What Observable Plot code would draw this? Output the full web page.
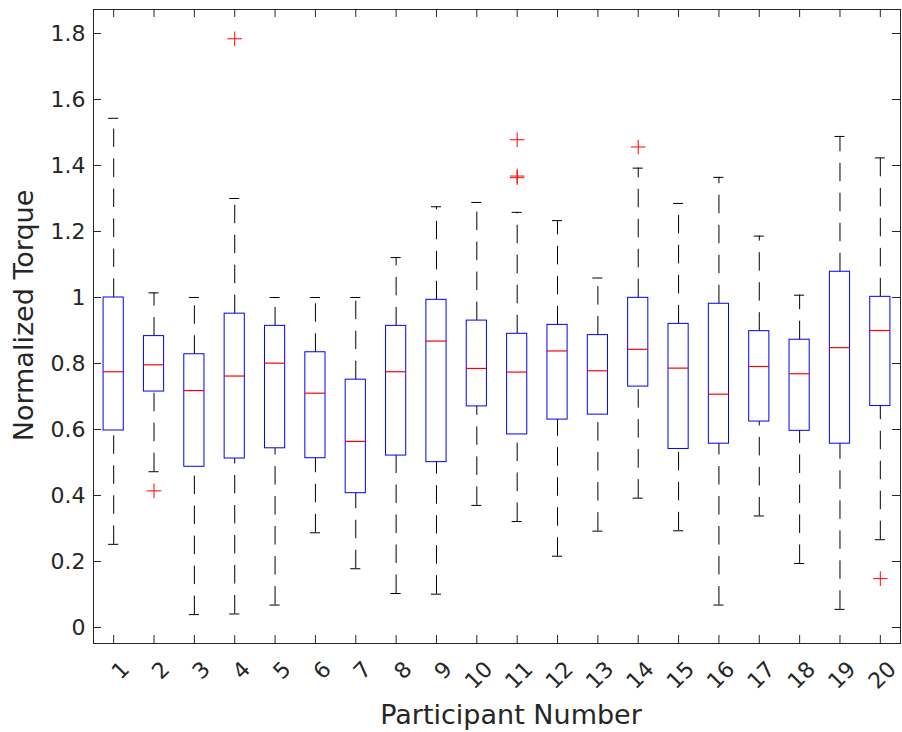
<!DOCTYPE html>
<html>
<head>
<meta charset="utf-8">
<script src="https://cdn.jsdelivr.net/npm/d3@7"></script>
<script src="https://cdn.jsdelivr.net/npm/@observablehq/plot@0.6"></script>
<style>
  html, body { margin: 0; padding: 0; background: #fff; }
  #chart svg { display: block; background: #fff; }
</style>
</head>
<body>
<div id="chart"></div>
<script>
const participants = [1,2,3,4,5,6,7,8,9,10,11,12,13,14,15,16,17,18,19,20];
const xTickLabels = ["1","2","3","4","5","6","7","8","9","10","11","12","13","14","15","16","17","18","19","20"];
const lowerWhisker = [0.252,0.472,0.039,0.041,0.068,0.287,0.178,0.103,0.101,0.370,0.321,0.216,0.292,0.392,0.293,0.068,0.338,0.194,0.055,0.266];
const q1 =           [0.597,0.715,0.487,0.512,0.543,0.513,0.407,0.521,0.501,0.670,0.585,0.630,0.645,0.730,0.541,0.557,0.624,0.596,0.557,0.671];
const median =       [0.775,0.796,0.718,0.762,0.801,0.710,0.564,0.775,0.868,0.785,0.774,0.838,0.778,0.843,0.786,0.707,0.791,0.769,0.848,0.900];
const q3 =           [1.000,0.883,0.828,0.951,0.914,0.834,0.751,0.914,0.993,0.930,0.890,0.917,0.886,0.999,0.920,0.981,0.898,0.872,1.078,1.002];
const upperWhisker = [1.543,1.014,1.000,1.300,1.000,1.000,1.000,1.121,1.275,1.288,1.258,1.233,1.059,1.392,1.285,1.364,1.186,1.007,1.488,1.423];
const outlierParticipant = [2, 4, 11, 11, 11, 14, 20];
const outlierValue =       [0.414, 1.784, 1.478, 1.363, 1.368, 1.456, 0.148];
const yTicks = [0, 0.2, 0.4, 0.6, 0.8, 1, 1.2, 1.4, 1.6, 1.8];
const yTickLabels = ["0", "0.2", "0.4", "0.6", "0.8", "1", "1.2", "1.4", "1.6", "1.8"];

const boxes = participants.map((p, i) => ({p, lo: lowerWhisker[i], q1: q1[i], med: median[i], q3: q3[i], hi: upperWhisker[i]}));
const outliers = outlierParticipant.map((p, i) => ({p, v: outlierValue[i]}));

const W = 902, H = 732;
const mL = 93, mR = 2, mT = 9, mB = 89;
const frameW = W - mL - mR, frameH = H - mT - mB;
const tickLen = 8;
const ink = "#262626";
const font = "DejaVu Sans";

const plusSymbol = {
  draw(context, size) {
    const r = Math.sqrt(size / Math.PI);
    context.moveTo(-r, 0); context.lineTo(r, 0);
    context.moveTo(0, -r); context.lineTo(0, r);
  }
};

const chart = Plot.plot({
  width: W, height: H,
  marginLeft: mL, marginRight: mR, marginTop: mT, marginBottom: mB,
  style: {fontFamily: font, background: "#fff"},
  x: {domain: [0.5, 20.5], axis: null},
  y: {domain: [-0.0485, 1.8727], axis: null},
  marks: [
    // whiskers (dashed, drawn from lower end to upper end)
    Plot.ruleX(boxes, {x: "p", y1: "q3", y2: "hi", stroke: "#000", strokeWidth: 1, strokeDasharray: "18.5,11.5"}),
    Plot.ruleX(boxes, {x: "p", y1: "lo", y2: "q1", stroke: "#000", strokeWidth: 1, strokeDasharray: "18.5,11.5"}),
    // whisker caps
    Plot.ruleY(boxes, {y: "hi", x1: d => d.p - 0.125, x2: d => d.p + 0.125, stroke: "#000", strokeWidth: 1}),
    Plot.ruleY(boxes, {y: "lo", x1: d => d.p - 0.125, x2: d => d.p + 0.125, stroke: "#000", strokeWidth: 1}),
    // boxes
    Plot.rect(boxes, {x1: d => d.p - 0.25, x2: d => d.p + 0.25, y1: "q1", y2: "q3", fill: "none", stroke: "#0000ff", strokeWidth: 1}),
    // medians
    Plot.ruleY(boxes, {y: "med", x1: d => d.p - 0.25, x2: d => d.p + 0.25, stroke: "#ff0000", strokeWidth: 1.2}),
    // outliers
    Plot.dot(outliers, {x: "p", y: "v", symbol: plusSymbol, r: 7.3, fill: "none", stroke: "#ff0000", strokeWidth: 1}),
    // inward ticks, all four sides
    Plot.tickY(yTicks, {y: d => d, insetRight: frameW - tickLen, stroke: ink, strokeWidth: 1}),
    Plot.tickY(yTicks, {y: d => d, insetLeft: frameW - tickLen, stroke: ink, strokeWidth: 1}),
    Plot.tickX(participants, {x: d => d, insetTop: frameH - tickLen, stroke: ink, strokeWidth: 1}),
    Plot.tickX(participants, {x: d => d, insetBottom: frameH - tickLen, stroke: ink, strokeWidth: 1}),
    // frame
    Plot.frame({stroke: ink, strokeWidth: 1}),
    // y tick labels
    Plot.axisY(yTicks, {tickSize: 0, tickPadding: 8, tickFormat: d => yTickLabels[yTicks.indexOf(d)], fontSize: 22, fill: ink, label: null}),
    // x tick labels, rotated
    Plot.text(participants, {x: d => d, frameAnchor: "bottom", text: (d, i) => xTickLabels[i], rotate: -45, textAnchor: "end", lineAnchor: "middle", dx: 12, dy: 22, fontSize: 22, fill: ink}),
    // axis titles
    Plot.text(["Participant Number"], {frameAnchor: "bottom", text: d => d, textAnchor: "middle", dx: 14, dy: 72, fontSize: 27, fill: ink, lineAnchor: "middle"}),
    Plot.text(["Normalized Torque"], {frameAnchor: "left", text: d => d, textAnchor: "middle", rotate: -90, dx: -69, dy: -11, fontSize: 27, fill: ink, lineAnchor: "middle"})
  ]
});
document.getElementById("chart").appendChild(chart);
</script>
</body>
</html>
